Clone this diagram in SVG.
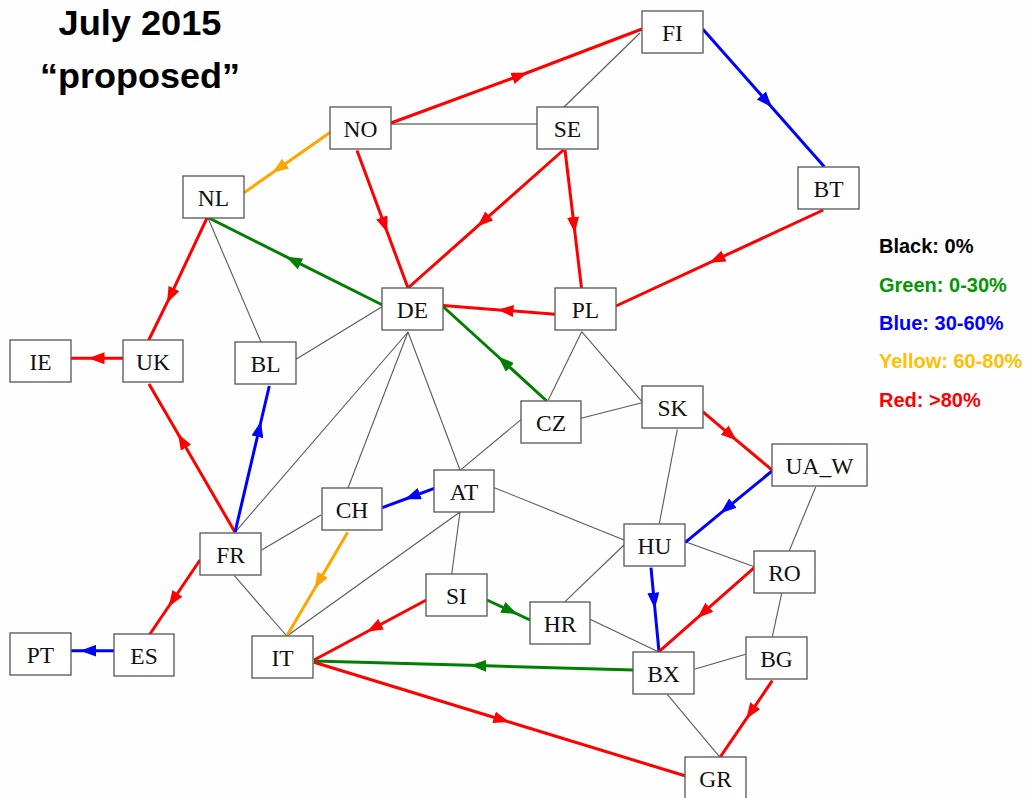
<svg xmlns="http://www.w3.org/2000/svg" width="1034" height="798" viewBox="0 0 1034 798">
  <style>
    .node rect { fill: #ffffff; stroke: #555555; stroke-width: 1.3; }
    .node text { font-family: "Liberation Serif", "Times New Roman", serif; font-size: 23.5px; fill: #111111; text-anchor: middle; }
    .thin { fill: none; stroke: #5a5a5a; stroke-width: 1.1; }
    .flow { fill: none; stroke-width: 3; }
    .red { stroke: #ff0000; marker-mid: url(#ah-red); }
    .green { stroke: #008000; marker-mid: url(#ah-green); }
    .blue { stroke: #0000ff; marker-mid: url(#ah-blue); }
    .orange { stroke: #ffa500; marker-mid: url(#ah-orange); }
    .title { font-family: "Liberation Sans", Arial, sans-serif; font-weight: bold; font-size: 35px; fill: #000000; text-anchor: middle; }
    .legend { font-family: "Liberation Sans", Arial, sans-serif; font-weight: bold; font-size: 20px; }
  </style>
  <defs>
    <marker id="ah-red" markerUnits="userSpaceOnUse" markerWidth="16" markerHeight="12" refX="8" refY="6" orient="auto">
      <path d="M0,0 L16,6 L0,12 z" fill="#ff0000"/>
    </marker>
    <marker id="ah-green" markerUnits="userSpaceOnUse" markerWidth="16" markerHeight="12" refX="8" refY="6" orient="auto">
      <path d="M0,0 L16,6 L0,12 z" fill="#008000"/>
    </marker>
    <marker id="ah-blue" markerUnits="userSpaceOnUse" markerWidth="16" markerHeight="12" refX="8" refY="6" orient="auto">
      <path d="M0,0 L16,6 L0,12 z" fill="#0000ff"/>
    </marker>
    <marker id="ah-orange" markerUnits="userSpaceOnUse" markerWidth="16" markerHeight="12" refX="8" refY="6" orient="auto">
      <path d="M0,0 L16,6 L0,12 z" fill="#ffa500"/>
    </marker>
  </defs>

  <rect x="0" y="0" width="1034" height="798" fill="#fefefe"/>

  <!-- title -->
  <text class="title" x="140" y="35" textLength="163" lengthAdjust="spacingAndGlyphs">July 2015</text>
  <text class="title" x="140" y="88" textLength="200" lengthAdjust="spacingAndGlyphs">“proposed”</text>

  <!-- legend -->
  <g id="legend" class="legend">
    <text x="879" y="253" fill="#000000">Black: 0%</text>
    <text x="879" y="292" fill="#009900">Green: 0-30%</text>
    <text x="879" y="330" fill="#0000ff">Blue: 30-60%</text>
    <text x="879" y="368" fill="#ffc000">Yellow: 60-80%</text>
    <text x="879" y="407" fill="#ff0000">Red: &gt;80%</text>
  </g>

  <g id="connectors">
    <!-- unused links -->
    <path class="thin" d="M640,33 L564,107"/>
    <path class="thin" d="M391,124 L537,124" style="stroke:#333333"/>
    <path class="thin" d="M581.7,331.7 L548.3,400"/>
    <path class="thin" d="M581.7,331.7 L642,401.7"/>
    <path class="thin" d="M581,418.3 L642,402.7"/>
    <path class="thin" d="M382,306.7 L296,359.3"/>
    <path class="thin" d="M208,218 L261,342"/>
    <path class="thin" d="M408,332 L235,532.3"/>
    <path class="thin" d="M408,332 L348,488"/>
    <path class="thin" d="M408,332 L460,470"/>
    <path class="thin" d="M261.7,550 L321,515"/>
    <path class="thin" d="M521.3,419.3 L460,470.3"/>
    <path class="thin" d="M494.3,487.7 L624,540"/>
    <path class="thin" d="M677.3,429.3 L659.3,523.7"/>
    <path class="thin" d="M815.7,487 L789.3,550.7"/>
    <path class="thin" d="M685.3,541.7 L754.3,566.7"/>
    <path class="thin" d="M781.7,593.3 L772.3,636.7"/>
    <path class="thin" d="M694.3,669.3 L745.7,654.3"/>
    <path class="thin" d="M590,619.3 L658.3,651.7"/>
    <path class="thin" d="M624,545 L565,601.7"/>
    <path class="thin" d="M460,512 L451.7,574.3"/>
    <path class="thin" d="M460,512 L287,636"/>
    <path class="thin" d="M234.3,575.7 L286.7,636"/>
    <path class="thin" d="M667.3,694.3 L720,757.3"/>

    <!-- loaded links, arrow at mid vertex -->
    <path class="flow red" d="M391,123 L520,75.5 L642,29"/>
    <path class="flow blue" d="M702.7,29 L766.7,101.4 L824.3,166.7"/>
    <path class="flow orange" d="M330,132.5 L279,168.2 L244,192.7"/>
    <path class="flow red" d="M357,150.5 L384.6,225 L408,288"/>
    <path class="flow red" d="M563.5,150 L483.3,221.2 L408,288"/>
    <path class="flow red" d="M565,150 L574,225 L581.5,288"/>
    <path class="flow red" d="M823.3,210 L716.7,259.4 L616,306"/>
    <path class="flow green" d="M382.5,305 L293.3,260.3 L209,218"/>
    <path class="flow red" d="M555,314.3 L505.5,310.4 L443,305.5"/>
    <path class="flow green" d="M546.7,401 L504,362 L443,306.5"/>
    <path class="flow red" d="M207,218 L170.5,295.7 L148.3,341"/>
    <path class="flow red" d="M123,358.3 L96.5,358.3 L71,358.3"/>
    <path class="flow red" d="M235,532.3 L182,440.7 L149,384"/>
    <path class="flow blue" d="M235,532.3 L259.2,429 L269.3,386"/>
    <path class="flow blue" d="M434.3,488.3 L412.3,496.5 L382.3,507.7"/>
    <path class="flow red" d="M702.7,411.7 L730.7,435.3 L772,470"/>
    <path class="flow blue" d="M772,471 L726.7,508.2 L685.3,542.3"/>
    <path class="flow blue" d="M651,567.7 L654.1,600.7 L659,651.7"/>
    <path class="flow red" d="M754.3,567.7 L703.3,612.6 L659,651.7"/>
    <path class="flow green" d="M487,600 L510,610.7 L530,620"/>
    <path class="flow orange" d="M347.7,532.3 L318.7,581.7 L286.7,636"/>
    <path class="flow red" d="M200,560 L173,600 L149.3,635"/>
    <path class="flow blue" d="M114,650.7 L88.3,650.7 L71,650.7"/>
    <path class="flow red" d="M426.3,600 L374,628 L314,660"/>
    <path class="flow green" d="M633.3,670 L478.3,665.6 L314,661"/>
    <path class="flow red" d="M314,662.3 L501.7,719.7 L685.7,776"/>
    <path class="flow red" d="M772.3,680.7 L750.7,712.3 L720,757.3"/>
  </g>

  <g id="FI" class="node"><rect x="642" y="11" width="61" height="42"/><text x="672.5" y="40.5">FI</text></g>
  <g id="NO" class="node"><rect x="330" y="107" width="61" height="42"/><text x="360.5" y="136.5">NO</text></g>
  <g id="SE" class="node"><rect x="537" y="107" width="61" height="42"/><text x="567.5" y="136.5">SE</text></g>
  <g id="NL" class="node"><rect x="183" y="176" width="61" height="42"/><text x="213.5" y="205.5">NL</text></g>
  <g id="BT" class="node"><rect x="798" y="167" width="61" height="42"/><text x="828.5" y="196.5">BT</text></g>
  <g id="DE" class="node"><rect x="382" y="288" width="61" height="42"/><text x="412.5" y="317.5">DE</text></g>
  <g id="PL" class="node"><rect x="555" y="288" width="61" height="42"/><text x="585.5" y="317.5">PL</text></g>
  <g id="IE" class="node"><rect x="10" y="340" width="61" height="42"/><text x="40.5" y="369.5">IE</text></g>
  <g id="UK" class="node"><rect x="123" y="340" width="60" height="42"/><text x="153" y="369.5">UK</text></g>
  <g id="BL" class="node"><rect x="235" y="342" width="61" height="42"/><text x="265.5" y="371.5">BL</text></g>
  <g id="CZ" class="node"><rect x="521" y="401" width="60" height="42"/><text x="551" y="430.5">CZ</text></g>
  <g id="SK" class="node"><rect x="642" y="386" width="61" height="42"/><text x="672.5" y="415.5">SK</text></g>
  <g id="UA_W" class="node"><rect x="772" y="444" width="95" height="42"/><text x="819.5" y="473.5">UA_W</text></g>
  <g id="AT" class="node"><rect x="434" y="470" width="60" height="42"/><text x="464" y="499.5">AT</text></g>
  <g id="CH" class="node"><rect x="322" y="488" width="60" height="42"/><text x="352" y="517.5">CH</text></g>
  <g id="FR" class="node"><rect x="200" y="533" width="61" height="42"/><text x="230.5" y="562.5">FR</text></g>
  <g id="HU" class="node"><rect x="624" y="524" width="61" height="42"/><text x="654.5" y="553.5">HU</text></g>
  <g id="RO" class="node"><rect x="754" y="551" width="61" height="42"/><text x="784.5" y="580.5">RO</text></g>
  <g id="SI" class="node"><rect x="426" y="574" width="61" height="42"/><text x="456.5" y="603.5">SI</text></g>
  <g id="HR" class="node"><rect x="530" y="602" width="60" height="42"/><text x="560" y="631.5">HR</text></g>
  <g id="PT" class="node"><rect x="10" y="633" width="61" height="42"/><text x="40.5" y="662.5">PT</text></g>
  <g id="ES" class="node"><rect x="114" y="634" width="60" height="42"/><text x="144" y="663.5">ES</text></g>
  <g id="IT" class="node"><rect x="252" y="636" width="61" height="42"/><text x="282.5" y="665.5">IT</text></g>
  <g id="BG" class="node"><rect x="746" y="637" width="61" height="42"/><text x="776.5" y="666.5">BG</text></g>
  <g id="BX" class="node"><rect x="633" y="652" width="61" height="42"/><text x="663.5" y="681.5">BX</text></g>
  <g id="GR" class="node"><rect x="685" y="757" width="61" height="42"/><text x="715.5" y="786.5">GR</text></g>
</svg>
